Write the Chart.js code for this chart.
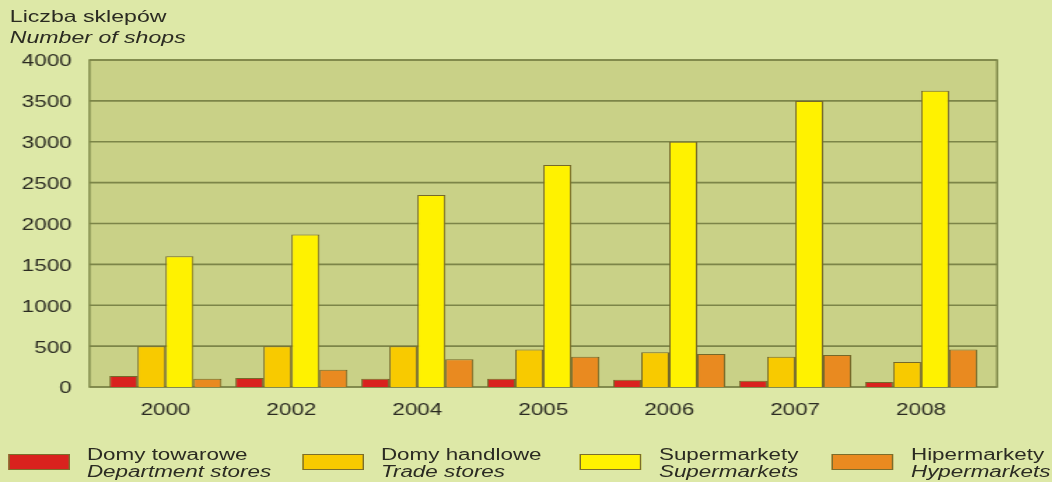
<!DOCTYPE html>
<html>
<head>
<meta charset="utf-8">
<script src="https://cdn.jsdelivr.net/npm/chart.js@4"></script>
<style>
  html, body { margin: 0; padding: 0; background: #dde8a7; overflow: hidden; }
  /* the whole figure is drawn narrow, then widened */
  #wrap {
    position: absolute; left: 0; top: 0;
    width: 751.4px; height: 482px;
    transform: scaleX(1.4); transform-origin: 0 0;
    font-family: "Liberation Sans", Arial, sans-serif; color: #2b2b22;
  }
  #wrap canvas { position: absolute; left: 0; top: 0; }
  .ttl { position: absolute; left: 7px; font-size: 16.5px; line-height: 19px; }
  .lg { position: absolute; top: 446px; font-size: 16px; line-height: 17px; white-space: nowrap; }
  .sw { position: absolute; top: 454px; width: 44px; height: 16px; box-sizing: border-box; border: 1px solid #7b6e2c; }
  i { font-style: italic; }
</style>
</head>
<body>
<div id="wrap">
  <canvas id="myChart"></canvas>
  <div class="ttl" style="top:7px">Liczba sklepów</div>
  <div class="ttl" style="top:28px"><i>Number of shops</i></div>
  <div id="legend"></div>
</div>
<script>
var years = ['2000', '2002', '2004', '2005', '2006', '2007', '2008']
var yTicks = [0, 500, 1000, 1500, 2000, 2500, 3000, 3500, 4000]

var deptStores = [135, 110, 100, 100, 90, 75, 60]
var tradeStores = [500, 500, 500, 460, 425, 370, 305]
var supermarkets = [1600, 1865, 2350, 2715, 3000, 3500, 3625]
var hypermarkets = [100, 210, 340, 370, 405, 390, 460]

var namesPl = ['Domy towarowe', 'Domy handlowe', 'Supermarkety', 'Hipermarkety']
var namesEn = ['Department stores', 'Trade stores', 'Supermarkets', 'Hypermarkets']
var colors = ['#d9221e', '#f8ca00', '#fff200', '#e98a20']

var legendX = [5.7, 215.7, 414.3, 594.3]

// legend under the chart
var lg = document.getElementById('legend')
namesPl.forEach((n, i) => {
  lg.insertAdjacentHTML('beforeend',
    `<div class="sw" style="left:${legendX[i]}px;background:${colors[i]}"></div>
     <div class="lg" style="left:${legendX[i] + 56.4}px">${n}<br><i>${namesEn[i]}</i></div>`)
})

// plot panel: background, horizontal lines and frame, a little wider than the bars
var panel = {
  id: 'panel',
  beforeDatasetsDraw(chart) {
    let c = chart.ctx, a = chart.chartArea, y = chart.scales.y
    let l = a.left - 9.3, r = a.right + 9.3
    c.save()
    c.fillStyle = '#c9d187'
    c.fillRect(l, a.top, r - l, a.bottom - a.top)
    c.strokeStyle = '#7c8548'
    c.lineWidth = 1.6
    yTicks.forEach(v => {
      let py = y.getPixelForValue(v)
      c.beginPath(); c.moveTo(l, py); c.lineTo(r, py); c.stroke()
    })
    c.lineWidth = 1.4
    c.strokeRect(l, a.top, r - l, a.bottom - a.top)
    c.restore()
  }
}

var series = [deptStores, tradeStores, supermarkets, hypermarkets]

var ctx = document.getElementById('myChart').getContext('2d')
var chart = new Chart(ctx, {
  type: 'bar',
  data: {
    labels: years,
    datasets: series.map((d, i) => ({
      label: namesPl[i],
      data: d,
      backgroundColor: colors[i],
      borderColor: '#75692a',
      borderWidth: 1,
      borderSkipped: 'bottom',
      categoryPercentage: 0.89,
      barPercentage: 1.0
    }))
  },
  options: {
    responsive: true,
    maintainAspectRatio: false,
    animation: false,
    layout: { padding: { top: 60, right: 48.5, left: 0, bottom: 0 } },
    plugins: { legend: { display: false }, tooltip: { enabled: false } },
    scales: {
      x: {
        grid: { display: false },
        border: { display: false },
        ticks: { color: '#2b2b22', font: { family: '"Liberation Sans", Arial', size: 16 }, padding: 6 },
        afterFit(s) { s.height = 95 }
      },
      y: {
        min: 0, max: 4000,
        grid: { display: false },
        border: { display: false },
        afterBuildTicks(s) { s.ticks = yTicks.map(v => ({ value: v })) },
        ticks: {
          color: '#2b2b22', font: { family: '"Liberation Sans", Arial', size: 16 }, padding: 14,
          labelOffset: 2,
          callback: v => String(v)
        },
        afterFit(s) { s.width = 73.2 }
      }
    }
  },
  plugins: [panel]
})
</script>
</body>
</html>
